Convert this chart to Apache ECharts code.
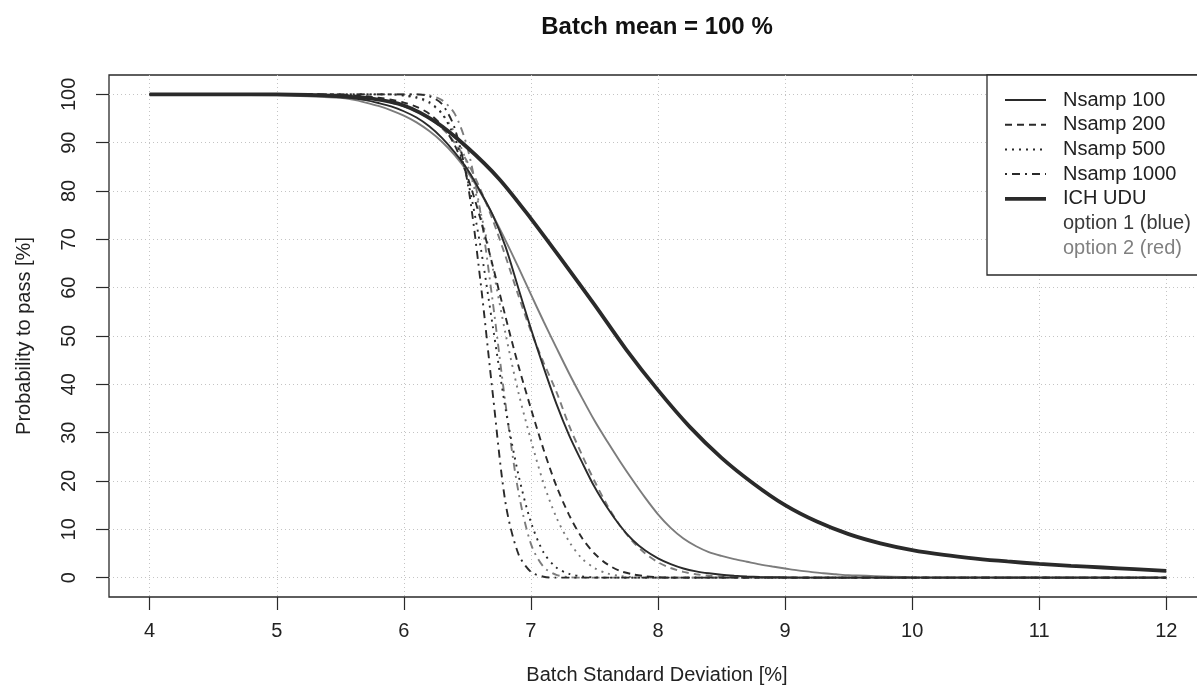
<!DOCTYPE html>
<html><head><meta charset="utf-8">
<script src="https://cdn.jsdelivr.net/npm/echarts@6/dist/echarts.min.js"></script>
<style>html,body{margin:0;padding:0;background:#fff}#c{width:1197px;height:695px}</style>
</head><body><div id="c"></div>
<script>
// ---- data ----
const xTicks = [4, 5, 6, 7, 8, 9, 10, 11, 12];
const yTicks = [0, 10, 20, 30, 40, 50, 60, 70, 80, 90, 100];
const sdGrid = [4, 5,
  5.5, 5.6, 5.7, 5.8, 5.9, 6.0, 6.1, 6.2, 6.3, 6.4, 6.5, 6.6, 6.7, 6.8, 6.9, 7.0, 7.1, 7.2, 7.3, 7.4,
  7.5, 7.6, 7.7, 7.8, 7.9, 8.0, 8.1, 8.2, 8.3, 8.4, 8.5, 8.6, 8.7, 8.8, 8.9, 9.0, 9.1, 9.2, 9.3, 9.4, 9.5,
  10, 12];
const nsamp100Opt1 = [100, 99.9,
  99.5, 99.2, 98.8, 98.2, 97.5, 96.5, 95.2, 93.4, 91, 88, 84.5, 80, 75, 68.5, 60, 51.5, 43.5, 36, 29.5, 24,
  18.8, 14.5, 10.8, 7.8, 5.6, 4, 2.8, 1.9, 1.3, 0.9, 0.6, 0.4, 0.25, 0.15, 0.1, 0.05, 0, 0, 0, 0, 0,
  0, 0];
const nsamp100Opt2 = [100, 99.8,
  99.3, 98.9, 98.3, 97.6, 96.7, 95.6, 94.2, 92.4, 90.2, 87.4, 84, 79.8, 75, 69.8, 64.3, 58.6, 53, 47.6, 42.3, 37.3,
  32.5, 28.2, 24.1, 20.2, 16.5, 13.1, 10.3, 8.1, 6.5, 5.3, 4.5, 3.85, 3.3, 2.75, 2.3, 1.9, 1.5, 1.2, 0.9, 0.7, 0.5,
  0.1, 0];
const nsamp200Opt1 = [100, 100,
  99.9, 99.8, 99.6, 99.3, 98.9, 98.3, 97.4, 96, 93.5, 89.5, 83, 74.5, 64.5, 54, 44, 35, 26.5, 19, 13, 8.3,
  5, 2.8, 1.4, 0.7, 0.3, 0.1, 0, 0, 0, 0, 0, 0, 0, 0, 0, 0, 0, 0, 0, 0, 0,
  0, 0];
const nsamp200Opt2 = [100, 100,
  99.8, 99.6, 99.3, 98.9, 98.3, 97.5, 96.4, 95, 93, 90, 86, 80.5, 74, 66.5, 58.5, 51, 44.5, 38.5, 31.5, 25.5,
  20, 15, 10.8, 7.5, 5, 3.2, 2, 1.2, 0.7, 0.4, 0.2, 0.1, 0, 0, 0, 0, 0, 0, 0, 0, 0,
  0, 0];
const nsamp500Opt1 = [100, 100,
  100, 100, 100, 100, 100, 99.8, 99.4, 98.4, 96, 91, 82.5, 69, 52, 35, 21.5, 11.5, 5.2, 2.1, 0.8, 0.25,
  0.05, 0, 0, 0, 0, 0, 0, 0, 0, 0, 0, 0, 0, 0, 0, 0, 0, 0, 0, 0, 0,
  0, 0];
const nsamp500Opt2 = [100, 100,
  100, 100, 100, 100, 100, 99.7, 99.2, 98.2, 96, 92, 85.5, 76, 64, 50.5, 38.5, 28.5, 19.5, 12.5, 7.5, 4,
  2, 0.9, 0.35, 0.1, 0, 0, 0, 0, 0, 0, 0, 0, 0, 0, 0, 0, 0, 0, 0, 0, 0,
  0, 0];
const nsamp1000Opt1 = [100, 100,
  100, 100, 100, 100, 100, 100, 100, 99.6, 98, 93, 82, 62, 38, 15.5, 5, 1.2, 0.2, 0, 0, 0,
  0, 0, 0, 0, 0, 0, 0, 0, 0, 0, 0, 0, 0, 0, 0, 0, 0, 0, 0, 0, 0,
  0, 0];
const nsamp1000Opt2 = [100, 100,
  100, 100, 100, 100, 100, 100, 100, 99.8, 98.8, 96, 89, 76, 57, 36, 18, 7, 2.2, 0.6, 0.1, 0,
  0, 0, 0, 0, 0, 0, 0, 0, 0, 0, 0, 0, 0, 0, 0, 0, 0, 0, 0, 0, 0,
  0, 0];
const ichSd = [4, 4.25, 4.5, 4.75, 5, 5.25, 5.5, 5.75, 6, 6.25, 6.5, 6.75, 7, 7.25, 7.5, 7.75, 8, 8.25, 8.5, 8.75,
  9, 9.25, 9.5, 9.75, 10, 10.25, 10.5, 10.75, 11, 11.25, 11.5, 11.75, 12];
const ichUdu = [100, 100, 100, 100, 100, 99.9, 99.6, 99.1, 97.7, 94.3, 89, 82.5, 74.3, 65.5, 56.5, 47.2, 38.8, 31.2, 24.8, 19.5,
  15, 11.6, 9, 7.1, 5.7, 4.7, 3.95, 3.35, 2.85, 2.45, 2.1, 1.75, 1.4];
const legendLabels = ['Nsamp 100', 'Nsamp 200', 'Nsamp 500', 'Nsamp 1000', 'ICH UDU', 'option 1 (blue)', 'option 2 (red)'];

// ---- styles ----
const FONT = '"Liberation Sans", Arial, Helvetica, sans-serif';
const FS = 20;
const C1 = '#2a2a2a';   // option 1 (blue) rendered dark
const C2 = '#7c7c7c';   // option 2 (red) rendered mid grey
const DASH = {solid: 'solid', dashed: [7, 5], dotted: [2, 5], dotdash: [2, 5, 8, 5]};

function pairs(xs, ys) { return xs.map((x, i) => [x, ys[i]]); }

const defs = [
  [nsamp100Opt2, C2, 'solid'], [nsamp200Opt2, C2, 'dashed'], [nsamp500Opt2, C2, 'dotted'], [nsamp1000Opt2, C2, 'dotdash'],
  [nsamp100Opt1, C1, 'solid'], [nsamp200Opt1, C1, 'dashed'], [nsamp500Opt1, C1, 'dotted'], [nsamp1000Opt1, C1, 'dotdash']
];
const series = defs.map(d => ({
  type: 'line', data: pairs(sdGrid, d[0]), symbol: 'none', smooth: 0.3,
  lineStyle: {color: d[1], width: 1.9, type: DASH[d[2]]}, silent: true
}));
series.push({type: 'line', data: pairs(ichSd, ichUdu), symbol: 'none', smooth: 0.3,
  lineStyle: {color: C1, width: 3.8}, silent: true});

// legend + titles as graphics
const lg = [];
lg.push({type: 'rect', shape: {x: 987, y: 75, width: 260, height: 200}, style: {fill: '#fff', stroke: '#2a2a2a', lineWidth: 1.3}, z: 50});
const sampleStyles = [['solid', 2, C1], ['dashed', 2, C1], ['dotted', 2, C1], ['dotdash', 2, C1], ['solid', 3.8, C1]];
legendLabels.forEach((t, i) => {
  const y = 100 + 24.7 * i;
  if (i < 5) {
    const s = sampleStyles[i];
    lg.push({type: 'line', shape: {x1: 1005, y1: y, x2: 1046, y2: y},
      style: {stroke: s[2], lineWidth: s[1], lineDash: s[0] === 'solid' ? null : DASH[s[0]]}, z: 51});
  }
  lg.push({type: 'text', x: 1063, y: y, style: {text: t, font: FS + 'px ' + FONT,
    fill: i === 6 ? '#808080' : (i === 5 ? '#3a3a3a' : '#222'), textVerticalAlign: 'middle'}, z: 51});
});
lg.push({type: 'text', x: 657, y: 27, style: {text: 'Batch mean = 100 %', font: 'bold 24px ' + FONT, fill: '#111', textAlign: 'center', textVerticalAlign: 'middle'}});
lg.push({type: 'text', x: 657, y: 675, style: {text: 'Batch Standard Deviation [%]', font: FS + 'px ' + FONT, fill: '#222', textAlign: 'center', textVerticalAlign: 'middle'}});
lg.push({type: 'text', x: 24, y: 336, rotation: Math.PI / 2, style: {text: 'Probability to pass [%]', font: FS + 'px ' + FONT, fill: '#222', textAlign: 'center', textVerticalAlign: 'middle'}});

const chart = echarts.init(document.getElementById('c'), null, {renderer: 'canvas'});
chart.setOption({
  animation: false,
  backgroundColor: '#fff',
  grid: {left: 109, top: 75, width: 1098, height: 522, show: true, borderColor: '#2a2a2a', borderWidth: 1.3, containLabel: false, outerBoundsMode: 'none'},
  xAxis: {type: 'value', min: 3.68, max: 12.32,
    axisLine: {show: false, onZero: false},
    axisTick: {show: true, length: 13, customValues: xTicks, lineStyle: {color: '#2a2a2a', width: 1.2}},
    axisLabel: {customValues: xTicks, margin: 24, fontSize: FS, fontFamily: FONT, color: '#222'},
    splitLine: {show: true, lineStyle: {color: '#c4c4c4', type: [1, 3], width: 1}}},
  yAxis: {type: 'value', min: -4, max: 104,
    axisLine: {show: false, onZero: false},
    axisTick: {show: true, length: 13, customValues: yTicks, lineStyle: {color: '#2a2a2a', width: 1.2}},
    axisLabel: {customValues: yTicks, rotate: 90, margin: 30, fontSize: FS, fontFamily: FONT, color: '#222'},
    splitLine: {show: true, lineStyle: {color: '#c4c4c4', type: [1, 3], width: 1}}},
  series: series,
  graphic: lg
});
</script></body></html>
